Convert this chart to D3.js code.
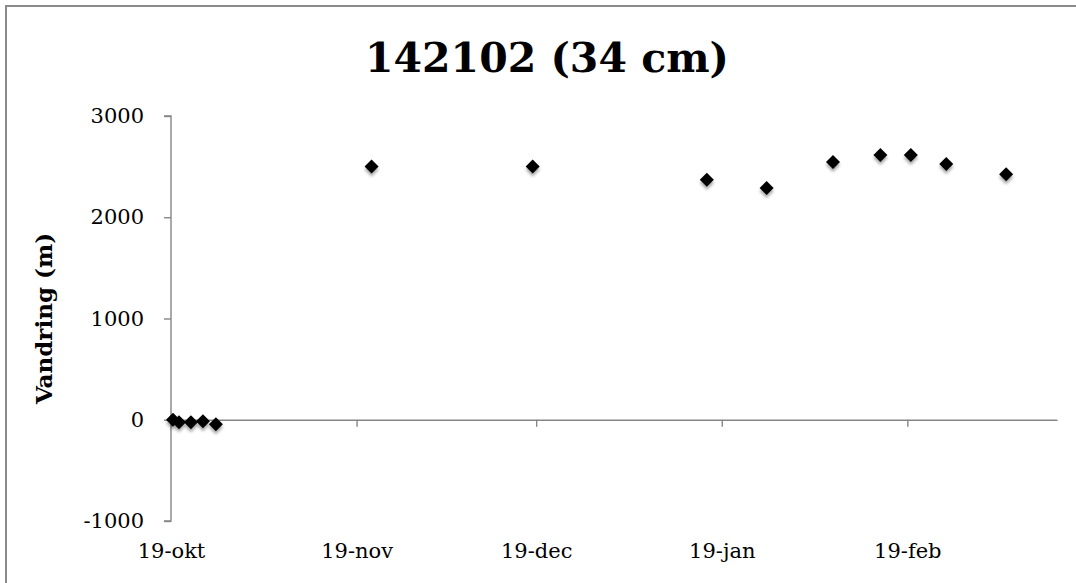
<!DOCTYPE html>
<html>
<head>
<meta charset="utf-8">
<script src="https://cdn.jsdelivr.net/npm/d3@7"></script>
<style>
  html, body { margin: 0; padding: 0; background: #fff; overflow: hidden; }
  svg { display: block; }
  text { font-family: "DejaVu Serif", serif; fill: #000; }
</style>
</head>
<body>
<svg id="chart" width="1076" height="583"></svg>
<script>
// ---- data ----
const chartTitle = "142102 (34 cm)";
const yTitle = "Vandring (m)";
const dates = [
  "2014-10-19T08:00", "2014-10-20T08:00", "2014-10-22T08:00", "2014-10-24T08:00", "2014-10-26T12:00",
  "2014-11-21T12:00", "2014-12-18T10:00", "2015-01-16T12:00", "2015-01-26T12:00", "2015-02-06T14:00",
  "2015-02-14T12:00", "2015-02-19T14:00", "2015-02-25T12:00", "2015-03-07T12:00"
];
const values = [0, -25, -25, -15, -45, 2500, 2500, 2370, 2290, 2545, 2615, 2615, 2525, 2425];
const xTickDates = ["2014-10-19", "2014-11-19", "2014-12-19", "2015-01-19", "2015-02-19"];
const xTickLabels = ["19-okt", "19-nov", "19-dec", "19-jan", "19-feb"];
const xDomain = ["2014-10-19", "2015-03-16"];
const yTicks = [-1000, 0, 1000, 2000, 3000];
const yTickLabels = ["-1000", "0", "1000", "2000", "3000"];
const yDomain = [-1000, 3000];

// ---- layout ----
const svg = d3.select("#chart");
const parse = s => new Date(s + (s.length === 10 ? "T00:00Z" : "Z"));
const plot = { left: 171, right: 1057, top: 116, bottom: 521 };

const x = d3.scaleUtc().domain(xDomain.map(parse)).range([plot.left, plot.right]);
const y = d3.scaleLinear().domain(yDomain).range([plot.bottom, plot.top]);

const axisColor = "#868686";

// outer border (chart area)
svg.append("rect")
  .attr("x", 6).attr("y", 6).attr("width", 1090).attr("height", 600)
  .attr("fill", "none").attr("stroke", "#8a8a8a").attr("stroke-width", 2);

// drop shadow filter for markers
const defs = svg.append("defs");
const f = defs.append("filter").attr("id", "shadow")
  .attr("x", "-50%").attr("y", "-50%").attr("width", "200%").attr("height", "200%");
f.append("feDropShadow").attr("dx", 0).attr("dy", 3).attr("stdDeviation", 1.8)
  .attr("flood-color", "#000").attr("flood-opacity", 0.35);

// title
svg.append("text")
  .attr("x", 547).attr("y", 72)
  .attr("text-anchor", "middle")
  .style("font-size", "41px").style("font-weight", "bold")
  .text(chartTitle);

// y axis
const yAxis = svg.append("g")
  .attr("transform", `translate(${plot.left},0)`)
  .call(d3.axisLeft(y).tickValues(yTicks).tickSize(7).tickPadding(20)
    .tickFormat((d, i) => yTickLabels[i]));
yAxis.selectAll("path, line").attr("stroke", axisColor).attr("stroke-width", 1.4);
yAxis.select(".domain").attr("d", `M-7,${y(3000)}H0V${y(-1000)}H-7`);
yAxis.selectAll("text").style("font-size", "21px").style("font-family", "DejaVu Serif, serif").attr("fill", "#000");

// x axis (at y = 0)
const xAxis = svg.append("g")
  .attr("transform", `translate(0,${y(0)})`)
  .call(d3.axisBottom(x).tickValues(xTickDates.map(parse)).tickSize(7).tickSizeOuter(0).tickFormat(""));
xAxis.selectAll("path, line").attr("stroke", axisColor).attr("stroke-width", 1.4);

// x tick labels at bottom of plot
const xLab = svg.append("g")
  .attr("transform", `translate(0,${plot.bottom})`)
  .call(d3.axisBottom(x).tickValues(xTickDates.map(parse)).tickSize(0).tickPadding(22)
    .tickFormat((d, i) => xTickLabels[i]));
xLab.select(".domain").remove();
xLab.selectAll("text").style("font-size", "21px").style("font-family", "DejaVu Serif, serif").attr("fill", "#000");

// y axis title
svg.append("text")
  .attr("transform", `translate(52,${(plot.top + plot.bottom) / 2}) rotate(-90)`)
  .attr("text-anchor", "middle")
  .style("font-size", "23px").style("font-weight", "bold")
  .text(yTitle);

// markers
const pts = dates.map((d, i) => ({ date: parse(d), value: values[i] }));
svg.append("g").attr("filter", "url(#shadow)")
  .selectAll("path").data(pts).enter().append("path")
  .attr("d", d3.symbol().type(d3.symbolSquare).size(98))
  .attr("transform", d => `translate(${x(d.date)},${y(d.value)}) rotate(45)`)
  .attr("fill", "#000");
</script>
</body>
</html>
